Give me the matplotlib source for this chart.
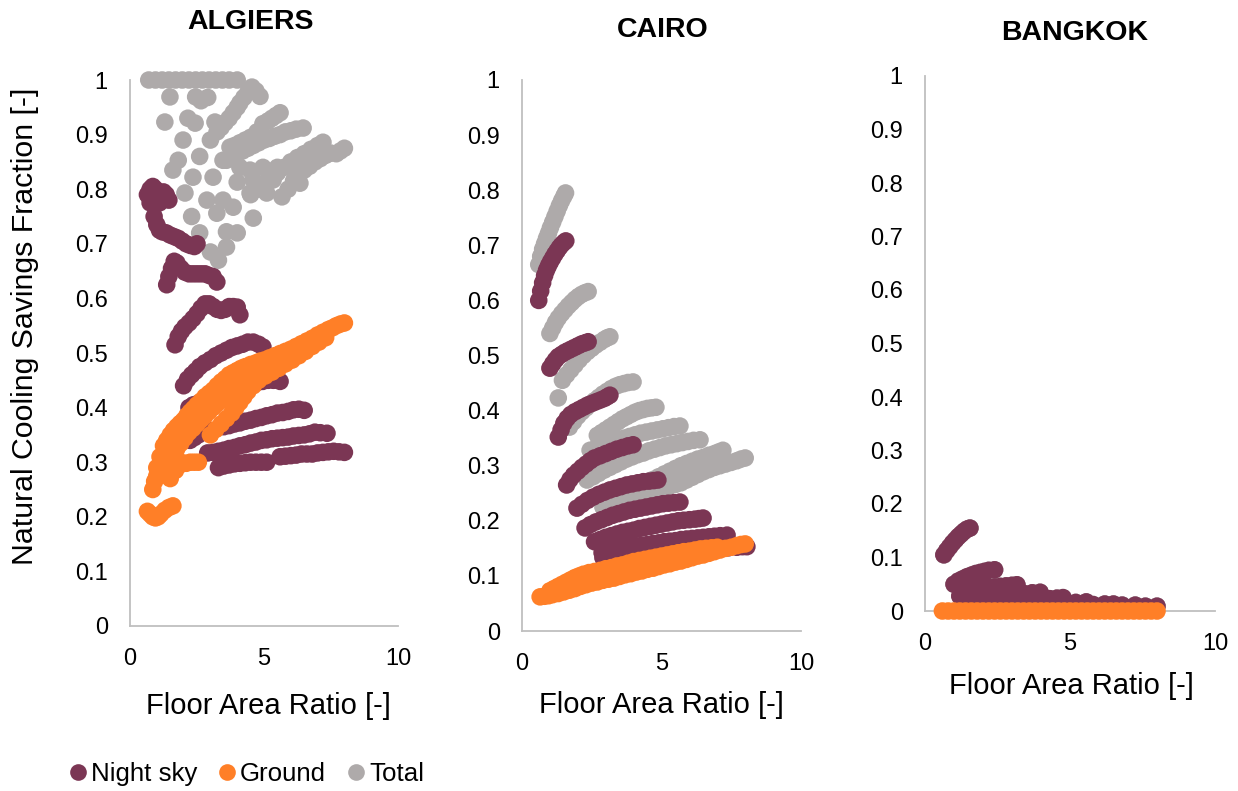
import matplotlib
matplotlib.use("Agg")
import matplotlib.pyplot as plt
from matplotlib.lines import Line2D

plt.rcParams['font.family'] = ['Liberation Sans', 'DejaVu Sans']

NIGHT_COLOR = '#7B3654'
GROUND_COLOR = '#FF7F27'
TOTAL_COLOR = '#AEAAAA'
SPINE_COLOR = '#BFBFBF'

CITIES = ['ALGIERS', 'CAIRO', 'BANGKOK']
SERIES_NAMES = ['Night sky', 'Ground', 'Total']
Y_TICKS = [0, 0.1, 0.2, 0.3, 0.4, 0.5, 0.6, 0.7, 0.8, 0.9, 1]
Y_TICK_LABELS = ['0', '0.1', '0.2', '0.3', '0.4', '0.5', '0.6', '0.7', '0.8', '0.9', '1']
X_TICKS = [0, 5, 10]
X_TICK_LABELS = ['0', '5', '10']

# ---------------- ALGIERS ----------------
ALG_NIGHT_X = [0.65, 0.75, 0.85, 0.95, 1.05, 1.15, 1.25, 1.35, 1.45, 0.75, 0.9, 1.1,
               0.9, 1.0, 1.1, 1.2, 1.35, 1.5, 1.65, 1.8, 1.95, 2.1, 2.25, 2.4, 2.5,
               1.37, 1.45, 1.55, 1.65, 1.75, 1.9, 2.05, 2.2, 2.35, 2.5, 2.65, 2.8, 2.95, 3.1, 3.24,
               1.68, 1.8, 1.92, 2.05, 2.2, 2.35, 2.5, 2.65, 2.8, 2.95, 3.1, 3.25, 3.4, 3.55, 3.7,
               3.85, 4.0, 4.1,
               2.0, 2.15, 2.3, 2.45, 2.6, 2.8, 3.0, 3.2, 3.4, 3.6, 3.8, 4.0, 4.2, 4.4, 4.6, 4.8, 4.96,
               2.2, 2.36, 2.55, 2.75, 2.95, 3.15, 3.35, 3.55, 3.75, 3.95, 4.15, 4.35, 4.55, 4.75,
               4.95, 5.15, 5.35, 5.6,
               2.24, 2.4, 2.55, 2.7, 2.85,
               3.5, 3.7, 3.9, 4.1, 4.3, 4.5, 4.7, 4.9, 5.1, 5.3, 5.5, 5.7, 5.9, 6.1, 6.3, 6.5,
               2.9, 3.1, 3.3, 3.5, 3.7, 3.9, 4.1, 4.3, 4.5, 4.7, 4.9, 5.1, 5.3, 5.5, 5.7, 5.9, 6.1,
               6.3, 6.5, 6.7, 6.9, 7.1, 7.35,
               3.3, 3.5, 3.7, 3.9, 4.1, 4.3, 4.5, 4.7, 4.9, 5.1,
               5.6, 5.8, 6.0, 6.2, 6.4, 6.6, 6.8, 7.0, 7.2, 7.4, 7.6, 7.8, 8.0]
ALG_NIGHT_Y = [0.79, 0.80, 0.805, 0.80, 0.795, 0.79, 0.795, 0.79, 0.78, 0.775, 0.785, 0.775,
               0.75, 0.735, 0.725, 0.722, 0.72, 0.716, 0.713, 0.71, 0.705, 0.70, 0.697, 0.695, 0.70,
               0.625, 0.64, 0.655, 0.668, 0.665, 0.655, 0.648, 0.645, 0.645, 0.645, 0.645, 0.645,
               0.642, 0.64, 0.63,
               0.515, 0.53, 0.54, 0.548, 0.555, 0.563, 0.572, 0.582, 0.59, 0.59, 0.585, 0.58, 0.578,
               0.58, 0.585, 0.585, 0.584, 0.57,
               0.44, 0.452, 0.46, 0.467, 0.475, 0.482, 0.488, 0.495, 0.50, 0.505, 0.51, 0.513, 0.516,
               0.52, 0.52, 0.516, 0.511,
               0.40, 0.405, 0.408, 0.412, 0.416, 0.42, 0.424, 0.428, 0.431, 0.434, 0.437, 0.44,
               0.443, 0.446, 0.448, 0.45, 0.45, 0.448,
               0.34, 0.345, 0.35, 0.355, 0.36,
               0.365, 0.367, 0.37, 0.372, 0.375, 0.377, 0.38, 0.382, 0.385, 0.387, 0.39, 0.391,
               0.393, 0.396, 0.397, 0.395,
               0.317, 0.318, 0.32, 0.322, 0.325, 0.327, 0.33, 0.332, 0.335, 0.337, 0.34, 0.341,
               0.343, 0.344, 0.345, 0.346, 0.348, 0.349, 0.35, 0.352, 0.355, 0.354, 0.353,
               0.29, 0.293, 0.295, 0.297, 0.298, 0.299, 0.30, 0.30, 0.30, 0.30,
               0.31, 0.311, 0.312, 0.313, 0.315, 0.315, 0.315, 0.317, 0.318, 0.319, 0.32, 0.319, 0.318]

ALG_GROUND_X = [0.65, 0.75, 0.85, 0.95, 1.05, 1.15, 1.3, 1.45, 1.6,
                0.85, 0.92, 1.0, 1.1, 1.2, 1.35, 1.5, 1.65, 1.8, 1.95, 2.1, 2.25, 2.4, 2.55,
                1.0, 1.12, 1.25, 1.37, 1.5, 1.62, 1.75, 1.87, 2.0, 2.12, 2.25, 2.37, 2.5, 2.65, 2.8,
                2.95, 3.1, 3.25, 3.4, 3.55, 3.7, 3.85, 4.0, 4.15, 4.3, 4.5, 4.7, 4.85, 5.0, 5.2,
                5.4, 5.6, 5.8, 6.0, 6.2, 6.4, 6.6, 6.8, 7.0, 7.2, 7.4, 7.55, 7.7, 7.85, 8.0,
                1.3, 1.45, 1.6, 1.75, 1.9, 2.05, 2.2, 2.35, 2.5, 2.65, 2.8, 2.95, 3.1, 3.25, 3.4,
                3.55, 3.7, 3.85, 4.0, 4.15, 4.3, 4.45, 4.6, 4.8, 5.0, 5.2, 5.4, 5.6, 5.8,
                3.0, 3.2, 3.4, 3.6, 3.8, 3.95, 4.1, 4.25, 4.4, 4.6, 4.8,
                5.05, 5.3, 5.55, 5.8, 6.05, 6.3, 6.55, 6.8, 7.05, 7.3,
                1.5, 1.7, 1.9]
ALG_GROUND_Y = [0.21, 0.205, 0.20, 0.198, 0.20, 0.205, 0.212, 0.217, 0.22,
                0.25, 0.265, 0.275, 0.28, 0.283, 0.287, 0.29, 0.293, 0.295, 0.297, 0.298, 0.30,
                0.30, 0.30,
                0.29, 0.31, 0.33, 0.34, 0.35, 0.358, 0.365, 0.371, 0.377, 0.385, 0.392, 0.398,
                0.405, 0.412, 0.42, 0.426, 0.432, 0.44, 0.447, 0.453, 0.46, 0.464, 0.468, 0.472,
                0.475, 0.479, 0.482, 0.485, 0.487, 0.491, 0.495, 0.499, 0.503, 0.507, 0.512,
                0.517, 0.522, 0.527, 0.533, 0.538, 0.543, 0.546, 0.55, 0.553, 0.555,
                0.30, 0.307, 0.315, 0.325, 0.335, 0.345, 0.355, 0.362, 0.37, 0.378, 0.385, 0.393,
                0.40, 0.407, 0.413, 0.419, 0.425, 0.431, 0.437, 0.444, 0.45, 0.455, 0.46, 0.465,
                0.47, 0.475, 0.48, 0.485, 0.49,
                0.35, 0.36, 0.37, 0.38, 0.39, 0.40, 0.41, 0.42, 0.43, 0.44,
                0.45, 0.458, 0.465, 0.472, 0.48, 0.487, 0.495, 0.503, 0.512, 0.52, 0.528,
                0.27, 0.285, 0.30]

ALG_TOTAL_X = [0.7, 0.95, 1.2, 1.45, 1.7, 1.95, 2.2, 2.45, 2.7, 2.95, 3.2, 3.45, 3.7, 4.0,
               1.49, 2.45, 2.65, 2.9,
               3.25, 3.4, 3.55, 3.7, 3.85, 4.0, 4.1, 4.25, 4.4, 4.55, 4.7, 4.85,
               1.3, 2.16, 2.43, 3.17, 1.98, 3.0, 1.8, 1.6, 2.6, 2.35, 3.1, 2.05, 2.87, 3.47,
               2.3, 3.24, 3.85, 2.6, 3.6, 4.0, 3.0, 3.6, 3.3, 4.6, 4.48, 4.0, 4.6, 5.34, 6.34,
               4.96, 5.5, 5.97, 4.48, 5.1, 3.47, 4.1,
               3.73, 3.9, 4.1, 4.3, 4.5, 4.74, 4.96, 5.15, 5.3, 5.45, 5.6,
               3.6, 3.8, 4.0, 4.2, 4.4, 4.6, 4.8, 5.0, 5.2, 5.4, 5.6, 5.8, 6.0, 6.2, 6.46,
               4.5, 4.75, 5.0, 5.25, 5.5, 5.75, 6.0, 6.25, 6.5, 6.75, 7.0, 7.2,
               5.67, 5.9, 6.1, 6.3, 6.5, 6.7, 6.9, 7.1, 7.3, 7.5, 7.7, 7.85, 8.0]
ALG_TOTAL_Y = [1.0, 1.0, 1.0, 1.0, 1.0, 1.0, 1.0, 1.0, 1.0, 1.0, 1.0, 1.0, 1.0, 1.0,
               0.969, 0.969, 0.962, 0.968,
               0.905, 0.913, 0.922, 0.93, 0.94, 0.95, 0.958, 0.968, 0.978, 0.987, 0.98, 0.97,
               0.923, 0.93, 0.921, 0.923, 0.89, 0.89, 0.853, 0.835, 0.86, 0.822, 0.822, 0.793,
               0.78, 0.78,
               0.75, 0.756, 0.767, 0.72, 0.722, 0.72, 0.685, 0.694, 0.67, 0.747, 0.835, 0.813,
               0.817, 0.817, 0.811,
               0.84, 0.84, 0.84, 0.793, 0.793, 0.853, 0.84,
               0.877, 0.88, 0.885, 0.89, 0.895, 0.905, 0.92, 0.925, 0.93, 0.935, 0.94,
               0.853, 0.858, 0.865, 0.87, 0.875, 0.88, 0.885, 0.89, 0.893, 0.897, 0.90, 0.905,
               0.907, 0.91, 0.912,
               0.79, 0.80, 0.81, 0.82, 0.83, 0.84, 0.85, 0.858, 0.865, 0.873, 0.88, 0.886,
               0.786, 0.80, 0.815, 0.825, 0.835, 0.842, 0.85, 0.856, 0.862, 0.866, 0.865, 0.87, 0.875]

# ---------------- CAIRO ----------------
CAI_NIGHT_X = [0.6, 0.67, 0.74, 0.81, 0.88, 0.95, 1.02, 1.1, 1.18, 1.26, 1.34, 1.42, 1.5, 1.57,
               1.0, 1.1, 1.2, 1.3, 1.42, 1.54, 1.66, 1.78, 1.9, 2.02, 2.14, 2.26, 2.37,
               1.3, 1.4, 1.5, 1.62, 1.75, 1.9, 2.05, 2.2, 2.35, 2.5, 2.65, 2.8, 2.95, 3.05, 3.15,
               1.6, 1.72, 1.85, 2.0, 2.15, 2.3, 2.45, 2.6, 2.8, 3.0, 3.2, 3.4, 3.6, 3.8, 3.98,
               1.97, 2.15, 2.35, 2.55, 2.75, 2.95, 3.15, 3.35, 3.55, 3.75, 3.95, 4.15, 4.35, 4.55,
               4.72, 4.87,
               2.26, 2.45, 2.65, 2.85, 3.05, 3.25, 3.45, 3.65, 3.85, 4.05, 4.25, 4.45, 4.65, 4.85,
               5.05, 5.25, 5.45, 5.66,
               2.6, 2.8, 3.0, 3.2, 3.4, 3.6, 3.8, 4.0, 4.2, 4.4, 4.6, 4.8, 5.0, 5.2, 5.4, 5.6, 5.8,
               6.0, 6.2, 6.35, 6.49,
               2.87, 3.1, 3.3, 3.5, 3.7, 3.9, 4.1, 4.3, 4.5, 4.7, 4.9, 5.1, 5.3, 5.5, 5.7, 5.9, 6.1,
               6.3, 6.5, 6.7, 6.9, 7.1, 7.35,
               2.9, 3.2, 3.5, 3.8, 4.1, 4.4, 4.7, 5.0, 5.3, 5.6, 5.9, 6.2, 6.5, 6.8, 7.1, 7.4, 7.7,
               7.9, 8.06]
CAI_NIGHT_Y = [0.60, 0.617, 0.632, 0.645, 0.655, 0.663, 0.67, 0.677, 0.684, 0.69, 0.696, 0.701,
               0.705, 0.708,
               0.477, 0.485, 0.492, 0.498, 0.502, 0.506, 0.509, 0.512, 0.515, 0.518, 0.521, 0.523,
               0.525,
               0.352, 0.365, 0.377, 0.386, 0.393, 0.398, 0.402, 0.406, 0.41, 0.413, 0.416, 0.419,
               0.422, 0.425, 0.428,
               0.265, 0.275, 0.283, 0.29, 0.297, 0.303, 0.309, 0.314, 0.318, 0.322, 0.326, 0.33,
               0.333, 0.336, 0.338,
               0.223, 0.23, 0.237, 0.243, 0.248, 0.252, 0.256, 0.259, 0.262, 0.265, 0.267, 0.269,
               0.271, 0.272, 0.273, 0.274,
               0.187, 0.193, 0.198, 0.202, 0.206, 0.21, 0.213, 0.216, 0.219, 0.221, 0.223, 0.225,
               0.227, 0.229, 0.231, 0.232, 0.233, 0.234,
               0.162, 0.166, 0.17, 0.173, 0.176, 0.179, 0.181, 0.183, 0.186, 0.188, 0.19, 0.192,
               0.194, 0.196, 0.198, 0.2, 0.201, 0.202, 0.203, 0.204, 0.205,
               0.142, 0.145, 0.147, 0.149, 0.151, 0.153, 0.154, 0.156, 0.157, 0.159, 0.16, 0.162,
               0.163, 0.164, 0.166, 0.167, 0.168, 0.169, 0.17, 0.171, 0.172, 0.173, 0.174,
               0.133, 0.135, 0.137, 0.138, 0.14, 0.141, 0.142, 0.144, 0.145, 0.146, 0.147, 0.148,
               0.149, 0.15, 0.15, 0.151, 0.152, 0.153, 0.153]

CAI_GROUND_X = [0.65, 0.8, 0.95, 1.1, 1.3, 1.5, 1.7, 1.9, 2.1, 2.3, 2.5, 2.7, 2.9, 3.1, 3.3,
                3.5, 3.7, 3.9, 4.1, 4.3, 4.5, 4.7, 4.9, 5.1, 5.3, 5.5, 5.7, 5.9, 6.1, 6.3,
                6.5, 6.7, 6.9, 7.1, 7.3, 7.5, 7.7, 7.85, 8.0,
                1.0, 1.15, 1.3, 1.45, 1.6, 1.75, 1.9, 2.05, 2.2, 2.4, 2.6, 2.8, 3.0, 3.2, 3.4,
                3.6, 3.8, 4.0, 4.2, 4.4, 4.6, 4.8, 5.0, 5.2, 5.4, 5.6, 5.8, 6.0, 6.2, 6.4,
                6.6, 6.8, 7.0,
                1.5, 1.75, 2.0, 2.25, 2.5, 2.75, 3.0, 3.25, 3.5, 3.75, 4.0, 4.25, 4.5, 4.75,
                5.0, 5.25, 5.5, 5.75, 6.0]
CAI_GROUND_Y = [0.062, 0.063, 0.064, 0.066, 0.068, 0.071, 0.074, 0.077, 0.081, 0.084, 0.087,
                0.089, 0.092, 0.094, 0.096, 0.099, 0.102, 0.104, 0.107, 0.109, 0.112, 0.114,
                0.117, 0.12, 0.122, 0.125, 0.127, 0.13, 0.133, 0.136, 0.138, 0.141, 0.144,
                0.147, 0.15, 0.152, 0.155, 0.157, 0.158,
                0.073, 0.077, 0.081, 0.085, 0.089, 0.093, 0.097, 0.10, 0.103, 0.106, 0.108,
                0.11, 0.113, 0.115, 0.118, 0.12, 0.123, 0.126, 0.128, 0.13, 0.132, 0.134,
                0.136, 0.138, 0.14, 0.142, 0.144, 0.145, 0.147, 0.149, 0.15, 0.151, 0.152,
                0.078, 0.084, 0.09, 0.094, 0.098, 0.101, 0.104, 0.107, 0.11, 0.113, 0.116,
                0.119, 0.122, 0.125, 0.128, 0.131, 0.134, 0.137, 0.139]

CAI_TOTAL_X = [0.6, 0.67, 0.74, 0.81, 0.88, 0.95, 1.02, 1.1, 1.18, 1.26, 1.34, 1.42, 1.5, 1.56,
               1.0, 1.1, 1.2, 1.3, 1.42, 1.54, 1.66, 1.78, 1.9, 2.02, 2.14, 2.26, 2.37,
               1.45, 1.6, 1.75, 1.9, 2.05, 2.2, 2.35, 2.5, 2.65, 2.8, 2.95, 3.05, 3.15, 1.3,
               1.7, 1.85, 2.0, 2.15, 2.3, 2.45, 2.6, 2.75, 2.9, 3.05, 3.2, 3.35, 3.5, 3.65, 3.8,
               3.98,
               2.7, 2.85, 3.0, 3.15, 3.3, 3.45, 3.6, 3.75, 3.9, 4.05, 4.2, 4.35, 4.5, 4.65, 4.8,
               2.44, 2.65, 2.85, 3.05, 3.25, 3.45, 3.65, 3.85, 4.05, 4.25, 4.45, 4.65, 4.85, 5.05,
               5.25, 5.45, 5.66,
               2.33, 2.55, 2.75, 2.95, 3.15, 3.35, 3.55, 3.75, 3.95, 4.15, 4.35, 4.55, 4.75, 4.95,
               5.15, 5.35, 5.55, 5.75, 5.95, 6.15, 6.38,
               2.9, 3.1, 3.3, 3.5, 3.7, 3.9, 4.1, 4.3, 4.5, 4.7, 4.9, 5.1, 5.3, 5.5, 5.7, 5.9,
               6.1, 6.3, 6.5, 6.7, 6.9, 7.05, 7.2,
               4.0, 4.25, 4.5, 4.75, 5.0, 5.25, 5.5, 5.7, 5.9, 6.1, 6.3, 6.5, 6.7, 6.9, 7.1, 7.3,
               7.5, 7.7, 7.85, 8.0]
CAI_TOTAL_Y = [0.665, 0.68, 0.693, 0.703, 0.713, 0.722, 0.732, 0.742, 0.752, 0.762, 0.772,
               0.781, 0.789, 0.795,
               0.54, 0.55, 0.56, 0.568, 0.576, 0.583, 0.59, 0.596, 0.602, 0.607, 0.611, 0.614,
               0.616,
               0.455, 0.465, 0.474, 0.483, 0.492, 0.50, 0.507, 0.513, 0.519, 0.524, 0.529, 0.532,
               0.534, 0.423,
               0.37, 0.38, 0.39, 0.398, 0.405, 0.412, 0.418, 0.424, 0.43, 0.435, 0.44, 0.444,
               0.447, 0.449, 0.451, 0.452,
               0.355, 0.36, 0.365, 0.37, 0.375, 0.38, 0.385, 0.389, 0.393, 0.397, 0.40, 0.402,
               0.404, 0.405, 0.406,
               0.328, 0.332, 0.336, 0.34, 0.343, 0.347, 0.35, 0.353, 0.356, 0.359, 0.361, 0.363,
               0.365, 0.367, 0.369, 0.371, 0.372,
               0.274, 0.28, 0.286, 0.292, 0.297, 0.302, 0.307, 0.312, 0.316, 0.32, 0.323, 0.327,
               0.33, 0.333, 0.336, 0.338, 0.34, 0.342, 0.344, 0.346, 0.347,
               0.225, 0.231, 0.237, 0.243, 0.25, 0.255, 0.26, 0.265, 0.27, 0.275, 0.28, 0.285,
               0.29, 0.295, 0.30, 0.304, 0.308, 0.312, 0.315, 0.319, 0.322, 0.325, 0.328,
               0.235, 0.242, 0.248, 0.253, 0.258, 0.262, 0.266, 0.269, 0.274, 0.279, 0.284,
               0.289, 0.293, 0.297, 0.30, 0.303, 0.306, 0.309, 0.312, 0.314]

# ---------------- BANGKOK ----------------
BKK_NIGHT_X = [0.65, 0.75, 0.85, 0.95, 1.05, 1.15, 1.25, 1.35, 1.45, 1.55,
               1.0, 1.15, 1.3, 1.45, 1.6, 1.75, 1.9, 2.05, 2.2, 2.4,
               1.2, 1.4, 1.6, 1.8, 2.0, 2.2, 2.4, 2.6, 2.8, 3.0, 3.17,
               1.4, 1.65, 1.9, 2.15, 2.4, 2.65, 2.9, 3.15, 3.4, 3.7, 3.97,
               1.6, 1.9, 2.2, 2.5, 2.8, 3.1, 3.4, 3.7, 4.0, 4.3, 4.55, 4.76,
               2.0, 2.4, 2.8, 3.2, 3.6, 4.0, 4.4, 4.8, 5.2, 5.56,
               2.4, 2.9, 3.4, 3.9, 4.4, 4.9, 5.4, 5.8, 6.2, 6.5,
               2.8, 3.4, 4.0, 4.6, 5.2, 5.8, 6.4, 6.8, 7.25,
               3.0, 3.7, 4.5, 5.2, 6.0, 6.6, 7.2, 7.6, 8.0]
BKK_NIGHT_Y = [0.105, 0.113, 0.12, 0.127, 0.133, 0.139, 0.144, 0.149, 0.153, 0.155,
               0.05, 0.056, 0.06, 0.064, 0.067, 0.07, 0.072, 0.074, 0.076, 0.077,
               0.028, 0.033, 0.037, 0.04, 0.042, 0.044, 0.045, 0.046, 0.047, 0.048, 0.049,
               0.015, 0.019, 0.022, 0.025, 0.027, 0.029, 0.031, 0.032, 0.033, 0.034, 0.035,
               0.008, 0.011, 0.013, 0.015, 0.017, 0.019, 0.02, 0.021, 0.022, 0.023, 0.024, 0.025,
               0.005, 0.007, 0.009, 0.011, 0.012, 0.013, 0.014, 0.015, 0.016, 0.017,
               0.004, 0.006, 0.007, 0.008, 0.01, 0.011, 0.012, 0.012, 0.013, 0.013,
               0.003, 0.004, 0.005, 0.006, 0.008, 0.009, 0.01, 0.011, 0.011,
               0.002, 0.003, 0.004, 0.005, 0.006, 0.007, 0.008, 0.009, 0.009]

BKK_GROUND_X = [0.6, 0.8, 1.0, 1.2, 1.4, 1.6, 1.8, 2.0, 2.2, 2.4, 2.6, 2.8, 3.0, 3.2, 3.4,
                3.6, 3.8, 4.0, 4.2, 4.4, 4.6, 4.8, 5.0, 5.2, 5.4, 5.6, 5.8, 6.0, 6.2, 6.4,
                6.6, 6.8, 7.0, 7.2, 7.4, 7.6, 7.8, 8.0]
BKK_GROUND_Y = [0.0, 0.0, 0.0, 0.0, 0.0, 0.0, 0.0, 0.0, 0.0, 0.0, 0.0, 0.0, 0.0, 0.0, 0.0,
                0.0, 0.0, 0.0, 0.0, 0.0, 0.0, 0.0, 0.0, 0.0, 0.0, 0.0, 0.0, 0.0, 0.0, 0.0,
                0.0, 0.0, 0.0, 0.0, 0.0, 0.0, 0.0, 0.0]

# Ground adds nothing in Bangkok, so the total coincides with the night-sky points
BKK_TOTAL_X = BKK_NIGHT_X
BKK_TOTAL_Y = BKK_NIGHT_Y

PANELS = [
    (ALG_NIGHT_X, ALG_NIGHT_Y, ALG_GROUND_X, ALG_GROUND_Y, ALG_TOTAL_X, ALG_TOTAL_Y),
    (CAI_NIGHT_X, CAI_NIGHT_Y, CAI_GROUND_X, CAI_GROUND_Y, CAI_TOTAL_X, CAI_TOTAL_Y),
    (BKK_NIGHT_X, BKK_NIGHT_Y, BKK_GROUND_X, BKK_GROUND_Y, BKK_TOTAL_X, BKK_TOTAL_Y),
]

W, H = 1238, 791
fig = plt.figure(figsize=(W / 100, H / 100), dpi=100)

# axes boxes in pixels: left, right, top, bottom
BOXES = [(130, 398, 80, 626), (522, 801, 80, 631), (925, 1215, 76, 611)]
TITLE_POS = [(251, 22), (663, 30), (1075, 33)]
XLABEL_POS = [(268, 706), (661, 705), (1071, 686)]

MARKER_S = 160

for i, (city, data) in enumerate(zip(CITIES, PANELS)):
    l, r, t, b = BOXES[i]
    ax = fig.add_axes([l / W, 1 - b / H, (r - l) / W, (b - t) / H])
    nx, ny, gx, gy, tx, ty = data
    ax.scatter(tx, ty, s=MARKER_S, color=TOTAL_COLOR, edgecolors='none', zorder=2, clip_on=False)
    ax.scatter(nx, ny, s=MARKER_S, color=NIGHT_COLOR, edgecolors='none', zorder=3, clip_on=False)
    ax.scatter(gx, gy, s=MARKER_S, color=GROUND_COLOR, edgecolors='none', zorder=4, clip_on=False)
    ax.set_xlim(0, 10)
    ax.set_ylim(0, 1)
    ax.set_xticks(X_TICKS)
    ax.set_xticklabels(X_TICK_LABELS)
    ax.set_yticks(Y_TICKS)
    ax.set_yticklabels(Y_TICK_LABELS)
    ax.tick_params(axis='both', length=0, labelsize=17, colors='black')
    ax.tick_params(axis='x', pad=16)
    ax.tick_params(axis='y', pad=16)
    for side in ('top', 'right'):
        ax.spines[side].set_visible(False)
    for side in ('left', 'bottom'):
        ax.spines[side].set_color(SPINE_COLOR)
        ax.spines[side].set_linewidth(1.3)
        ax.spines[side].set_zorder(1)
    ax.set_facecolor('none')

    fig.text(TITLE_POS[i][0] / W, 1 - TITLE_POS[i][1] / H, city, ha='center', va='center',
             fontsize=20.5, fontweight='bold')
    fig.text(XLABEL_POS[i][0] / W, 1 - XLABEL_POS[i][1] / H, 'Floor Area Ratio [-]',
             ha='center', va='center', fontsize=21)

fig.text(25 / W, 1 - 326 / H, 'Natural Cooling Savings Fraction [-]', rotation=90,
         ha='center', va='center', fontsize=21.8)

handles = [Line2D([], [], linestyle='none', marker='o', markersize=12,
                  markerfacecolor=c, markeredgecolor='none')
           for c in (NIGHT_COLOR, GROUND_COLOR, TOTAL_COLOR)]
fig.legend(handles, SERIES_NAMES, loc='center left', bbox_to_anchor=(68 / W, 1 - 774 / H),
           ncol=3, frameon=False, fontsize=18.6, handlelength=0.8, handletextpad=0.1,
           columnspacing=0.75, borderaxespad=0, borderpad=0)

fig.savefig('out.png', dpi=100)
